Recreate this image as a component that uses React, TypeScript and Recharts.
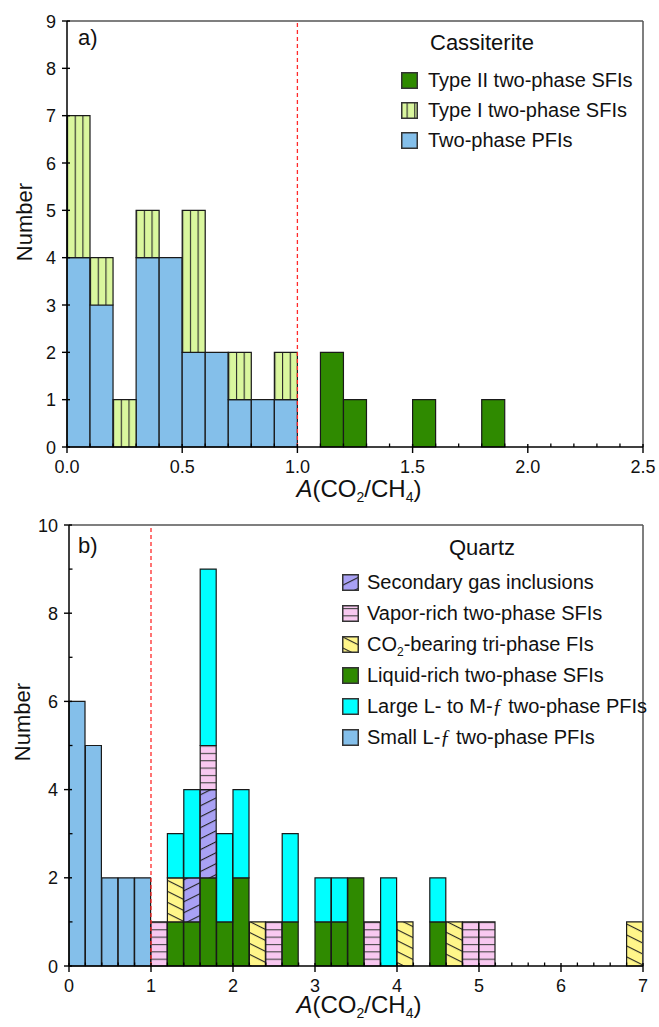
import React from "react";
import { BarChart, Bar, XAxis, YAxis, ReferenceLine, Legend } from "recharts";

const FONT = '"Liberation Sans", Arial, Helvetica, sans-serif';

// ---------- panel a) Cassiterite, bins of 0.1 ----------
const cassBins = [
  0, 0.1, 0.2, 0.3, 0.4, 0.5, 0.6, 0.7, 0.8, 0.9, 1.0, 1.1, 1.2,
  1.3, 1.4, 1.5, 1.6, 1.7, 1.8, 1.9, 2.0, 2.1, 2.2, 2.3, 2.4,
];
const cassPFI = [4, 3, 0, 4, 4, 2, 2, 1, 1, 1, 0, 0, 0, 0, 0, 0, 0, 0, 0, 0, 0, 0, 0, 0, 0];
const cassTypeI = [3, 1, 1, 1, 0, 3, 0, 1, 0, 1, 0, 0, 0, 0, 0, 0, 0, 0, 0, 0, 0, 0, 0, 0, 0];
const cassTypeII = [0, 0, 0, 0, 0, 0, 0, 0, 0, 0, 0, 2, 1, 0, 0, 1, 0, 0, 1, 0, 0, 0, 0, 0, 0];
const cassXTicks = [
  0, 0.1, 0.2, 0.3, 0.4, 0.5, 0.6, 0.7, 0.8, 0.9, 1.0, 1.1, 1.2, 1.3,
  1.4, 1.5, 1.6, 1.7, 1.8, 1.9, 2.0, 2.1, 2.2, 2.3, 2.4, 2.5,
];
const cassXMajor = [0, 0.5, 1, 1.5, 2, 2.5];
const cassYTicks = [0, 1, 2, 3, 4, 5, 6, 7, 8, 9];
const cassYMajor = [0, 1, 2, 3, 4, 5, 6, 7, 8, 9];

// ---------- panel b) Quartz, bins of 0.2 ----------
const qzBins = [
  0, 0.2, 0.4, 0.6, 0.8, 1.0, 1.2, 1.4, 1.6, 1.8, 2.0, 2.2, 2.4, 2.6, 2.8, 3.0, 3.2, 3.4,
  3.6, 3.8, 4.0, 4.2, 4.4, 4.6, 4.8, 5.0, 5.2, 5.4, 5.6, 5.8, 6.0, 6.2, 6.4, 6.6, 6.8,
];
const qzSmall = [6, 5, 2, 2, 2, 0, 0, 0, 0, 0, 0, 0, 0, 0, 0, 0, 0, 0, 0, 0, 0, 0, 0, 0, 0, 0, 0, 0, 0, 0, 0, 0, 0, 0, 0];
const qzLiquid = [0, 0, 0, 0, 0, 0, 1, 1, 2, 1, 2, 0, 0, 1, 0, 1, 1, 2, 0, 0, 0, 0, 1, 0, 0, 0, 0, 0, 0, 0, 0, 0, 0, 0, 0];
const qzCO2 = [0, 0, 0, 0, 0, 0, 1, 0, 0, 0, 0, 1, 0, 0, 0, 0, 0, 0, 0, 0, 1, 0, 0, 1, 0, 0, 0, 0, 0, 0, 0, 0, 0, 0, 1];
const qzSecondary = [0, 0, 0, 0, 0, 0, 0, 1, 2, 0, 0, 0, 0, 0, 0, 0, 0, 0, 0, 0, 0, 0, 0, 0, 0, 0, 0, 0, 0, 0, 0, 0, 0, 0, 0];
const qzVapor = [0, 0, 0, 0, 0, 1, 0, 0, 1, 0, 0, 0, 1, 0, 0, 0, 0, 0, 1, 0, 0, 0, 0, 0, 1, 1, 0, 0, 0, 0, 0, 0, 0, 0, 0];
const qzLarge = [0, 0, 0, 0, 0, 0, 1, 2, 4, 2, 2, 0, 0, 2, 0, 1, 1, 0, 0, 2, 0, 0, 1, 0, 0, 0, 0, 0, 0, 0, 0, 0, 0, 0, 0];
const qzXTicks = [
  0, 0.2, 0.4, 0.6, 0.8, 1, 1.2, 1.4, 1.6, 1.8, 2, 2.2, 2.4, 2.6, 2.8, 3, 3.2, 3.4, 3.6,
  3.8, 4, 4.2, 4.4, 4.6, 4.8, 5, 5.2, 5.4, 5.6, 5.8, 6, 6.2, 6.4, 6.6, 6.8, 7,
];
const qzXMajor = [0, 1, 2, 3, 4, 5, 6, 7];
const qzYTicks = [0, 1, 2, 3, 4, 5, 6, 7, 8, 9, 10];
const qzYMajor = [0, 2, 4, 6, 8, 10];

const cassData = cassBins.map((b, i) => ({
  bin: b.toFixed(1),
  mid: b + 0.05,
  pfi: cassPFI[i],
  typeI: cassTypeI[i],
  typeII: cassTypeII[i],
}));

const qzData = qzBins.map((b, i) => ({
  bin: b.toFixed(1),
  mid: b + 0.1,
  small: qzSmall[i],
  liquid: qzLiquid[i],
  co2: qzCO2[i],
  secondary: qzSecondary[i],
  vapor: qzVapor[i],
  large: qzLarge[i],
}));

const C = {
  blue: "#84bfea",
  lime: "#daf79e",
  green: "#2f8a00",
  cyan: "#00ffff",
  pink: "#f8c8f0",
  yellow: "#fff68a",
  purple: "#a9a1f4",
  edge: "#1a1a1a",
};

const makeXTick = (major: number[], fmt: (v: number) => string) => (props: any) => {
  const { x, y, payload } = props;
  const v = payload.value;
  const isMajor = major.includes(v);
  return (
    <g>
      {isMajor ? (
        <line x1={x} x2={x} y1={y - 3} y2={y + 6} stroke="#000" strokeWidth={1.4} />
      ) : (
        <line x1={x} x2={x} y1={y} y2={y - 3.5} stroke="#000" strokeWidth={1.3} />
      )}
      {isMajor && (
        <text x={x} y={y + 26} textAnchor="middle" fontSize={18} fontFamily={FONT} fill="#111">
          {fmt(v)}
        </text>
      )}
    </g>
  );
};

const makeYTick = (major: number[]) => (props: any) => {
  const { x, y, payload } = props;
  const v = payload.value;
  const isMajor = major.includes(v);
  return (
    <g>
      {isMajor ? (
        <line x1={x - 5} x2={x + 3} y1={y} y2={y} stroke="#000" strokeWidth={1.4} />
      ) : (
        <line x1={x} x2={x + 3.5} y1={y} y2={y} stroke="#000" strokeWidth={1.3} />
      )}
      {isMajor && (
        <text x={x - 11} y={y + 6.5} textAnchor="end" fontSize={18} fontFamily={FONT} fill="#111">
          {v}
        </text>
      )}
    </g>
  );
};

const Swatch = ({ fill }: { fill: string }) => (
  <svg width={17} height={17} style={{ display: "block", flex: "none" }}>
    <rect x={0.75} y={0.75} width={15.5} height={15.5} fill={fill} stroke="#333" strokeWidth={1.5} />
  </svg>
);

type LegendItem = { name: React.ReactNode; fill: string };

const PanelLegend = ({
  title,
  items,
  titleIndent,
  gap,
  rowH,
  firstGap,
}: {
  title: string;
  items: LegendItem[];
  titleIndent: number;
  gap: number;
  rowH: number;
  firstGap: number;
}) => (
  <div style={{ fontFamily: FONT, color: "#111" }}>
    <div style={{ height: 30, lineHeight: "30px", fontSize: 22, paddingLeft: titleIndent }}>{title}</div>
    <div style={{ marginTop: firstGap }}>
      {items.map((it, i) => (
        <div
          key={i}
          style={{ display: "flex", alignItems: "center", height: rowH, fontSize: 20, whiteSpace: "nowrap" }}
        >
          <Swatch fill={it.fill} />
          <span style={{ marginLeft: gap }}>{it.name}</span>
        </div>
      ))}
    </div>
  </div>
);

const AxisTitle = ({ x, y }: { x: number; y: number }) => (
  <text x={x} y={y} textAnchor="middle" fontSize={24} fontFamily={FONT} fill="#111">
    <tspan fontStyle="italic">A</tspan>
    <tspan>(CO</tspan>
    <tspan fontSize={14} dy={5}>2</tspan>
    <tspan dy={-5}>/CH</tspan>
    <tspan fontSize={14} dy={5}>4</tspan>
    <tspan dy={-5}>)</tspan>
  </text>
);

const YTitle = ({ x, y }: { x: number; y: number }) => (
  <text
    x={x}
    y={y}
    transform={`rotate(-90 ${x} ${y})`}
    textAnchor="middle"
    dominantBaseline="central"
    fontSize={22}
    fontFamily={FONT}
    fill="#111"
  >
    Number
  </text>
);

const cassLegend: LegendItem[] = [
  { name: "Type II two-phase SFIs", fill: C.green },
  { name: "Type I two-phase SFIs", fill: "url(#vlinesA)" },
  { name: "Two-phase PFIs", fill: C.blue },
];

const fItalic = <i style={{ fontFamily: '"Liberation Serif", serif' }}>ƒ</i>;

const qzLegend: LegendItem[] = [
  { name: "Secondary gas inclusions", fill: "url(#fwdB)" },
  { name: "Vapor-rich two-phase SFIs", fill: "url(#hlinesB)" },
  {
    name: (
      <>
        CO<sub style={{ fontSize: 12, lineHeight: 0 }}>2</sub>-bearing tri-phase FIs
      </>
    ),
    fill: "url(#backB)",
  },
  { name: "Liquid-rich two-phase SFIs", fill: C.green },
  { name: <>Large L- to M-{fItalic} two-phase PFIs</>, fill: C.cyan },
  { name: <>Small L-{fItalic} two-phase PFIs</>, fill: C.blue },
];

function CassiteriteChart() {
  return (
    <BarChart
      width={659}
      height={527}
      data={cassData}
      margin={{ top: 21, right: 16, left: 0, bottom: 27 }}
      barCategoryGap={0}
      barGap={0}
    >
      <defs>
        <pattern id="vlinesA" patternUnits="userSpaceOnUse" x={67} y={0} width={7.68} height={10}>
          <rect x={0} y={0} width={7.68} height={10} fill={C.lime} />
          <rect x={0} y={0} width={1.1} height={10} fill="#2a2a2a" />
        </pattern>
      </defs>
      <XAxis
        xAxisId="num"
        dataKey="mid"
        type="number"
        domain={[0, 2.5]}
        ticks={cassXTicks}
        interval={0}
        height={53}
        axisLine={{ stroke: "#000", strokeWidth: 1.5 }}
        tickLine={false}
        tickSize={0}
        tickMargin={0}
        tick={makeXTick(cassXMajor, (v) => v.toFixed(1))}
      />
      <XAxis xAxisId="bins" dataKey="bin" hide height={0} />
      <YAxis
        type="number"
        domain={[0, 9]}
        ticks={cassYTicks}
        interval={0}
        width={67}
        axisLine={{ stroke: "#000", strokeWidth: 1.5 }}
        tickLine={false}
        tickSize={0}
        tickMargin={0}
        tick={makeYTick(cassYMajor)}
      />
      <ReferenceLine y={9} stroke="#555" strokeWidth={1.5} ifOverflow="visible" />
      <ReferenceLine xAxisId="num" x={2.5} stroke="#555" strokeWidth={1.5} ifOverflow="visible" />
      <Bar xAxisId="bins" dataKey="pfi" stackId="c" fill={C.blue} stroke={C.edge} strokeWidth={1.2} isAnimationActive={false} />
      <Bar xAxisId="bins" dataKey="typeI" stackId="c" fill="url(#vlinesA)" stroke={C.edge} strokeWidth={1.2} isAnimationActive={false} />
      <Bar xAxisId="bins" dataKey="typeII" stackId="c" fill={C.green} stroke={C.edge} strokeWidth={1.2} isAnimationActive={false} />
      <ReferenceLine xAxisId="num" x={1} stroke="#ff2a2a" strokeWidth={1.3} strokeDasharray="4 3" />
      <Legend
        layout="vertical"
        align="center"
        verticalAlign="middle"
        wrapperStyle={{ left: 401, top: 28, width: 245 }}
        content={() => (
          <PanelLegend title="Cassiterite" items={cassLegend} titleIndent={29} gap={10} rowH={30} firstGap={7} />
        )}
      />
      <text x={78} y={45} fontSize={22} fontFamily={FONT} fill="#111">
        a)
      </text>
      <YTitle x={24} y={222} />
      <AxisTitle x={359} y={497} />
    </BarChart>
  );
}

function QuartzChart() {
  return (
    <BarChart
      width={659}
      height={527}
      data={qzData}
      margin={{ top: 25, right: 16, left: 0, bottom: 0 }}
      barCategoryGap={0}
      barGap={0}
    >
      <defs>
        <pattern id="hlinesB" patternUnits="userSpaceOnUse" x={0} y={466} width={10} height={7.35}>
          <rect x={0} y={0} width={10} height={7.35} fill={C.pink} />
          <rect x={0} y={0} width={10} height={1.1} fill="#444" />
        </pattern>
        <pattern id="backB" patternUnits="userSpaceOnUse" width={10} height={9.8} patternTransform="rotate(26.6)">
          <rect x={0} y={0} width={10} height={9.8} fill={C.yellow} />
          <rect x={0} y={0} width={10} height={1.1} fill="#222" />
        </pattern>
        <pattern id="fwdB" patternUnits="userSpaceOnUse" width={10} height={9.8} patternTransform="rotate(-26.6)">
          <rect x={0} y={0} width={10} height={9.8} fill={C.purple} />
          <rect x={0} y={0} width={10} height={1.1} fill="#222" />
        </pattern>
      </defs>
      <XAxis
        xAxisId="num"
        dataKey="mid"
        type="number"
        domain={[0, 7]}
        ticks={qzXTicks}
        interval={0}
        height={61}
        axisLine={{ stroke: "#000", strokeWidth: 1.5 }}
        tickLine={false}
        tickSize={0}
        tickMargin={0}
        tick={makeXTick(qzXMajor, (v) => String(v))}
      />
      <XAxis xAxisId="bins" dataKey="bin" hide height={0} />
      <YAxis
        type="number"
        domain={[0, 10]}
        ticks={qzYTicks}
        interval={0}
        width={69}
        axisLine={{ stroke: "#000", strokeWidth: 1.5 }}
        tickLine={false}
        tickSize={0}
        tickMargin={0}
        tick={makeYTick(qzYMajor)}
      />
      <ReferenceLine y={10} stroke="#555" strokeWidth={1.5} ifOverflow="visible" />
      <ReferenceLine xAxisId="num" x={7} stroke="#555" strokeWidth={1.5} ifOverflow="visible" />
      <Bar xAxisId="bins" dataKey="small" stackId="q" fill={C.blue} stroke={C.edge} strokeWidth={1.2} isAnimationActive={false} />
      <Bar xAxisId="bins" dataKey="liquid" stackId="q" fill={C.green} stroke={C.edge} strokeWidth={1.2} isAnimationActive={false} />
      <Bar xAxisId="bins" dataKey="co2" stackId="q" fill="url(#backB)" stroke={C.edge} strokeWidth={1.2} isAnimationActive={false} />
      <Bar xAxisId="bins" dataKey="secondary" stackId="q" fill="url(#fwdB)" stroke={C.edge} strokeWidth={1.2} isAnimationActive={false} />
      <Bar xAxisId="bins" dataKey="vapor" stackId="q" fill="url(#hlinesB)" stroke={C.edge} strokeWidth={1.2} isAnimationActive={false} />
      <Bar xAxisId="bins" dataKey="large" stackId="q" fill={C.cyan} stroke={C.edge} strokeWidth={1.2} isAnimationActive={false} />
      <ReferenceLine xAxisId="num" x={1} stroke="#ff2a2a" strokeWidth={1.3} strokeDasharray="4 3" />
      <Legend
        layout="vertical"
        align="center"
        verticalAlign="middle"
        wrapperStyle={{ left: 342, top: 33, width: 305 }}
        content={() => (
          <PanelLegend title="Quartz" items={qzLegend} titleIndent={107} gap={8} rowH={31} firstGap={3.5} />
        )}
      />
      <text x={78} y={53} fontSize={22} fontFamily={FONT} fill="#111">
        b)
      </text>
      <YTitle x={22} y={222} />
      <AxisTitle x={359} y={513} />
    </BarChart>
  );
}

export default function App() {
  return (
    <div style={{ position: "absolute", left: 0, top: 0, width: 659, height: 1027, background: "#fff" }}>
      <div style={{ position: "absolute", left: 0, top: 0 }}>
        <CassiteriteChart />
      </div>
      <div style={{ position: "absolute", left: 0, top: 500 }}>
        <QuartzChart />
      </div>
    </div>
  );
}
